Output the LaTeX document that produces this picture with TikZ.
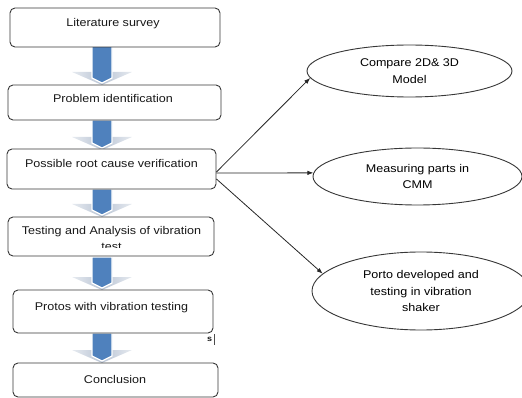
\documentclass[tikz,border=0pt]{standalone}
\usepackage{fontspec}
\setmainfont[FakeStretch=1.12]{Liberation Sans}
\usetikzlibrary{shapes.geometric,arrows.meta}
\definecolor{arrowblue}{RGB}{79,129,189}
\definecolor{headgray}{RGB}{185,196,212}
\definecolor{linegray}{RGB}{55,55,55}
\newcommand\blockarrow[3]{%
  \shade[left color=headgray!35,right color=headgray!35,middle color=headgray]
    (#1-30,#3-13) -- (#1+30,#3-13) -- (#1,#3) -- cycle;
  \filldraw[fill=arrowblue,draw=white,line width=1.2pt]
    (#1-10,#2) -- (#1+10,#2) -- (#1+10,#3-7) -- (#1,#3-2) -- (#1-10,#3-7) -- cycle;}
\begin{document}
\begin{tikzpicture}[x=1pt,y=-1pt,
  font=\fontsize{11.2}{16.5}\selectfont,
  stepbox/.style={draw=linegray,line width=0.9pt,rounded corners=5pt,fill=white,inner sep=0pt},
  oval/.style={ellipse,draw=linegray,line width=0.9pt,fill=white,inner sep=0pt,align=center},
  label text/.style={anchor=base,inner sep=0pt,text=black!90},
  conn/.style={draw=black!85,line width=0.8pt,-{Latex[length=6pt,width=4.5pt]}}]
\useasboundingbox (0,0) rectangle (522,398);
% block arrows
\blockarrow{102}{46}{85}
\blockarrow{102}{120}{150}
\blockarrow{102}{189}{217}
\blockarrow{102}{257}{290}
\blockarrow{102}{333}{363}
% boxes
\node[stepbox,minimum width=210pt,minimum height=39pt] (b1) at (115,27.5) {};
\node[stepbox,minimum width=213pt,minimum height=35pt] (b2) at (114.5,102.5) {};
\node[stepbox,minimum width=209pt,minimum height=40pt] (b3) at (111.5,169) {};
\node[stepbox,minimum width=206pt,minimum height=39pt] (b4) at (111,236.5) {};
\node[stepbox,minimum width=200pt,minimum height=43pt] (b5) at (113,311.5) {};
\node[stepbox,minimum width=205pt,minimum height=34pt] (b6) at (115.5,380) {};
% box texts
\node[label text] (t1) at (113,27) {Literature survey};
\node[label text] (t2) at (113,103) {Problem identification};
\node[label text] (t3) at (111.5,168) {Possible root cause verification};
\begin{scope}
  \clip (10,219) rectangle (212,247.5);
  \node[label text] (t4) at (111.5,234) {Testing and Analysis of vibration};
  \node[label text] (t4b) at (111.5,250.5) {test};
\end{scope}
\node[label text] (t5) at (111.5,310) {Protos with vibration testing};
\node[label text] (t6) at (115,383) {Conclusion};
% stray mark
\node[label text,font=\fontsize{8}{9}\selectfont\bfseries] (s) at (209.5,341) {s};
\draw[line width=0.6pt,black!70] (s.north east) ++(2pt,2pt) coordinate (m1) -- ++(0,-11pt) coordinate (m2);
% ellipses
\node[oval,minimum width=205pt,minimum height=52pt] (e1) at (409.5,71) {Compare 2D\& 3D\\Model};
\node[oval,minimum width=209pt,minimum height=57pt] (e2) at (417.5,176.5) {Measuring parts in\\CMM};
\node[oval,minimum width=218pt,minimum height=78pt] (e3) at (421,291) {Porto developed and\\testing in vibration\\shaker};
% connectors
\draw[conn] ([yshift=-3pt]b3.east) -- (e1.184);
\draw[conn] ([yshift=-4pt]b3.east) -- (e2.178);
\draw[conn] ([yshift=-10pt]b3.east) -- (e3.170);
\end{tikzpicture}
\end{document}
